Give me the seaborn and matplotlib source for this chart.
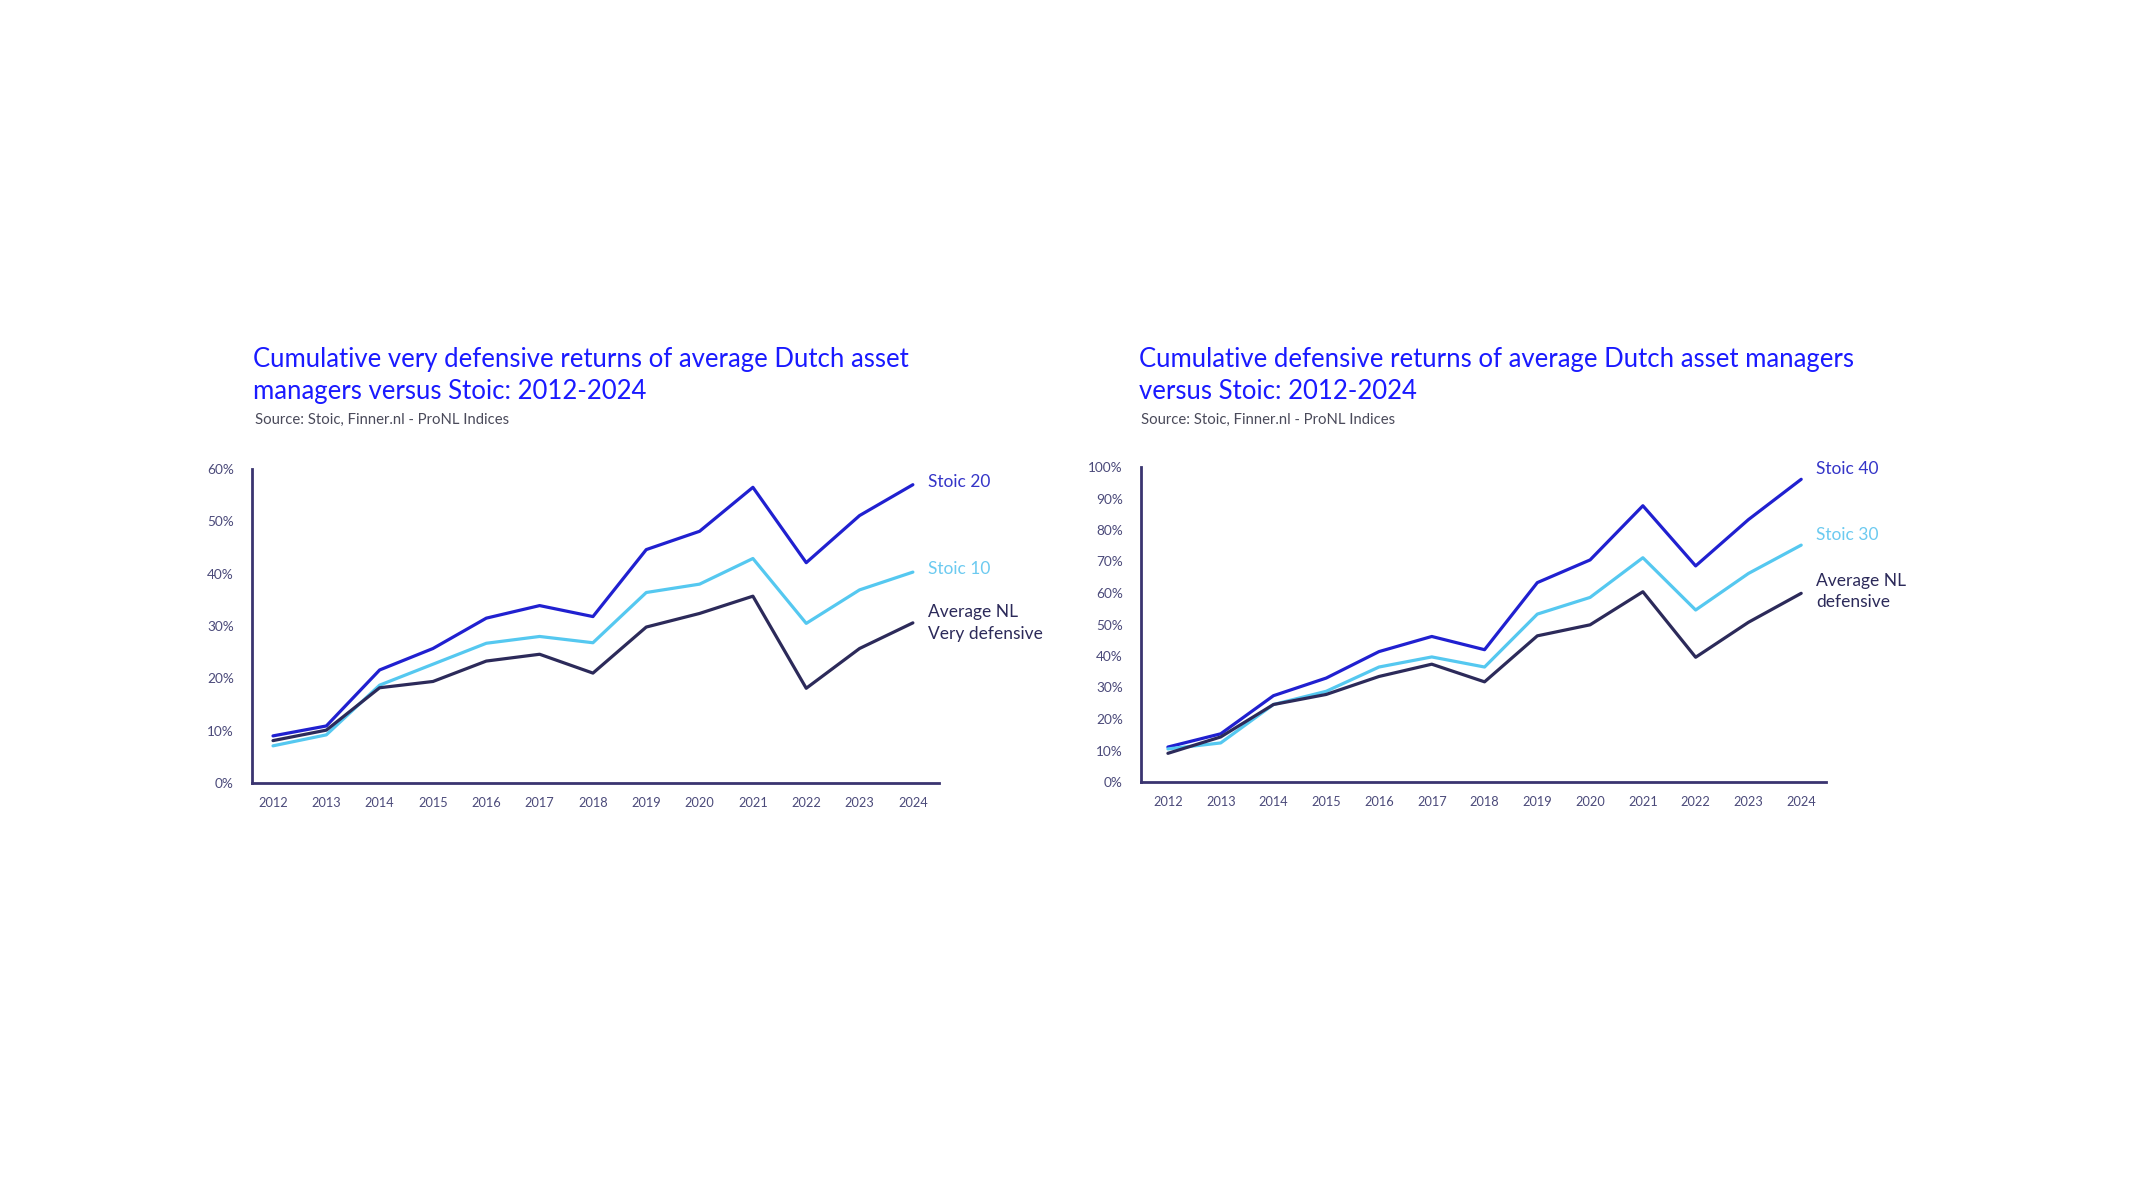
import matplotlib
matplotlib.use("Agg")
import matplotlib.pyplot as plt
import seaborn as sns
import pandas as pd
from matplotlib.ticker import FuncFormatter

sns.set_theme(style="white")
plt.rcParams['font.family'] = ['Lato', 'DejaVu Sans']

years = list(range(2012, 2025))

# Left chart: very defensive
stoic20 = [9.0, 10.9, 21.6, 25.7, 31.5, 33.9, 31.8, 44.6, 48.1, 56.5, 42.1, 51.1, 57.0]
stoic10 = [7.1, 9.2, 18.7, 22.7, 26.7, 28.0, 26.8, 36.4, 38.0, 42.9, 30.5, 36.9, 40.3]
avg_very_def = [8.1, 10.1, 18.2, 19.4, 23.3, 24.6, 21.0, 29.8, 32.4, 35.7, 18.1, 25.7, 30.6]

# Right chart: defensive
stoic40 = [11.1, 15.3, 27.4, 33.0, 41.4, 46.2, 42.0, 63.3, 70.5, 87.7, 68.6, 83.3, 96.1]
stoic30 = [10.5, 12.4, 24.6, 28.8, 36.5, 39.7, 36.5, 53.3, 58.6, 71.2, 54.6, 66.2, 75.2]
avg_def = [9.1, 14.3, 24.6, 27.8, 33.5, 37.4, 31.8, 46.4, 49.9, 60.4, 39.6, 50.7, 59.9]

left_title = ["Cumulative very defensive returns of average Dutch asset",
              "managers versus Stoic: 2012-2024"]
right_title = ["Cumulative defensive returns of average Dutch asset managers",
               "versus Stoic: 2012-2024"]
source = "Source: Stoic, Finner.nl - ProNL Indices"

DARK = "#2020d0"
LIGHT = "#55c8f0"
NAVY = "#2c2a5a"
TITLE = "#1a1aff"
TICK = "#4b4a7a"
SPINE = "#3a3470"

fig = plt.figure(figsize=(21.33, 12), dpi=100)

def draw(ax, series, names, colors, ylim, yticks):
    rows = []
    for vals, nm in zip(series, names):
        for y, v in zip(years, vals):
            rows.append({"year": y, "value": v, "series": nm})
    df = pd.DataFrame(rows)
    sns.lineplot(data=df, x="year", y="value", hue="series",
                 palette=dict(zip(names, colors)), linewidth=2.3,
                 ax=ax, legend=False)
    ax.set_ylim(*ylim)
    ax.set_yticks(yticks)
    ax.yaxis.set_major_formatter(FuncFormatter(lambda v, p: f"{int(v)}%"))
    ax.set_xticks(years)
    ax.set_xticklabels([str(y) for y in years])
    ax.set_xlabel("")
    ax.set_ylabel("")
    for s in ["top", "right"]:
        ax.spines[s].set_visible(False)
    for s in ["left", "bottom"]:
        ax.spines[s].set_color(SPINE)
        ax.spines[s].set_linewidth(2.0)
    ax.tick_params(axis="y", length=0, pad=13, labelsize=9.8, labelcolor=TICK)
    ax.tick_params(axis="x", length=0, pad=10, labelsize=9.2, labelcolor=TICK)
    ax.grid(False)
    ax.patch.set_alpha(0)

# left axes
axL = fig.add_axes([252/2133, 1-783/1200, (939-252)/2133, 314/1200])
draw(axL, [stoic20, stoic10, avg_very_def], ["Stoic 20", "Stoic 10", "Average NL Very defensive"],
     [DARK, LIGHT, NAVY], (0, 60), [0, 10, 20, 30, 40, 50, 60])
axL.set_xlim(2011.606, 2024.49)

axR = fig.add_axes([1141/2133, 1-782/1200, (1826-1141)/2133, 315/1200])
draw(axR, [stoic40, stoic30, avg_def], ["Stoic 40", "Stoic 30", "Average NL defensive"],
     [DARK, LIGHT, NAVY], (0, 100), list(range(0, 101, 10)))
axR.set_xlim(2011.49, 2024.47)

# Series labels (figure pixel coords)
def ftext(x, y, s, color, size=12.5):
    fig.text(x/2133, 1-y/1200, s, color=color, fontsize=size, ha="left", va="center")

ftext(928, 482, "Stoic 20", "#3535c8")
ftext(928, 569, "Stoic 10", "#6ccaf0")
ftext(928, 612, "Average NL", NAVY)
ftext(928, 634, "Very defensive", NAVY)

ftext(1816, 469, "Stoic 40", "#3535c8")
ftext(1816, 535, "Stoic 30", "#6ccaf0")
ftext(1816, 581, "Average NL", NAVY)
ftext(1816, 602, "defensive", NAVY)

# Titles
def title(x, lines):
    fig.text(x/2133, 1-367/1200, lines[0], color=TITLE, fontsize=18.5, ha="left", va="baseline")
    fig.text(x/2133, 1-399/1200, lines[1], color=TITLE, fontsize=18.5, ha="left", va="baseline")
    fig.text((x+2)/2133, 1-424/1200, source, color="#4a4a5a", fontsize=10.7, ha="left", va="baseline")

title(253, left_title)
title(1139, right_title)

fig.savefig("out.png", dpi=100, facecolor="white")
